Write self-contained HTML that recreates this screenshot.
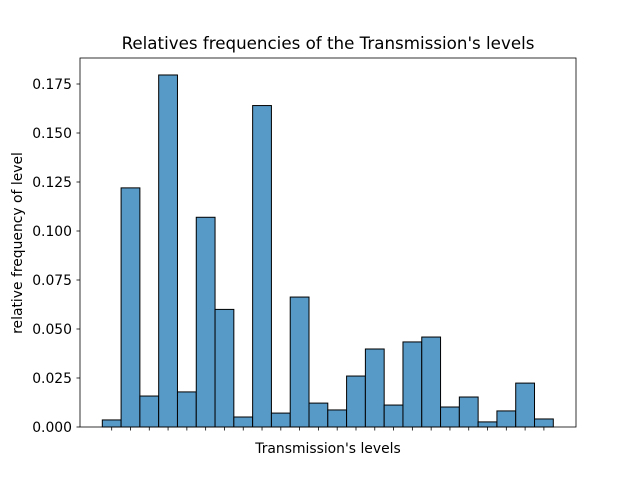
<!DOCTYPE html>
<html><head><meta charset="utf-8"><style>
body{margin:0;background:#fff;}
svg text{font-family:"DejaVu Sans","Liberation Sans",sans-serif;fill:#000;}
</style></head><body>
<svg id="chart" width="640" height="480" xmlns="http://www.w3.org/2000/svg">
<rect width="640" height="480" fill="#fff"/>
<text x="328" y="49" font-size="16.7" text-anchor="middle">Relatives frequencies of the Transmission's levels</text>
<text x="328" y="453" font-size="13.9" text-anchor="middle">Transmission's levels</text>
<text transform="translate(22,243) rotate(-90)" font-size="13.9" text-anchor="middle">relative frequency of level</text>
<g id="bars"></g><g id="yticks"></g><g id="xticks"></g>
<rect x="80" y="58" width="496" height="369" fill="none" stroke="#000" stroke-width="0.8"/>
</svg>
<script>
const values = [0.0036,0.122,0.0158,0.1796,0.0179,0.107,0.060,0.0051,0.164,0.0071,0.0663,0.0122,0.0087,0.026,0.0398,0.0112,0.0434,0.0459,0.0102,0.0153,0.0026,0.0082,0.0224,0.0041];
const yTicks = [0,0.025,0.05,0.075,0.1,0.125,0.15,0.175];
const yTickLabels = ["0.000","0.025","0.050","0.075","0.100","0.125","0.150","0.175"];
const NS="http://www.w3.org/2000/svg";
const y0=427, pxPer=1960, x0=102.3, bw=(553.3-102.3)/values.length;
function ys(v){return y0-v*pxPer;}
function xs(i){return x0+i*bw;}
const bars=document.getElementById('bars');
values.forEach((v,i)=>{
  const r=document.createElementNS(NS,'rect');
  r.setAttribute('x',xs(i));r.setAttribute('y',ys(v));
  r.setAttribute('width',bw);r.setAttribute('height',y0-ys(v));
  r.setAttribute('fill','#5799c7');r.setAttribute('stroke','#000');r.setAttribute('stroke-width','1');
  
  
  bars.appendChild(r);
});
const yt=document.getElementById('yticks');
yTicks.forEach((t,i)=>{
  const l=document.createElementNS(NS,'line');
  l.setAttribute('x1',76.5);l.setAttribute('x2',80);l.setAttribute('y1',ys(t));l.setAttribute('y2',ys(t));
  l.setAttribute('stroke','#000');l.setAttribute('stroke-width','0.8');
  
  
  yt.appendChild(l);
  const tx=document.createElementNS(NS,'text');
  tx.setAttribute('x',72);tx.setAttribute('y',ys(t)+5);tx.setAttribute('font-size','13.9');tx.setAttribute('text-anchor','end');
  tx.textContent=yTickLabels[i];
  
  
  yt.appendChild(tx);
});
const xt=document.getElementById('xticks');
values.forEach((v,i)=>{
  const l=document.createElementNS(NS,'line');
  const cx=xs(i)+bw/2;
  l.setAttribute('x1',cx);l.setAttribute('x2',cx);l.setAttribute('y1',427);l.setAttribute('y2',430.5);
  l.setAttribute('stroke','#000');l.setAttribute('stroke-width','0.8');
  
  
  xt.appendChild(l);
});
</script>
</body></html>
